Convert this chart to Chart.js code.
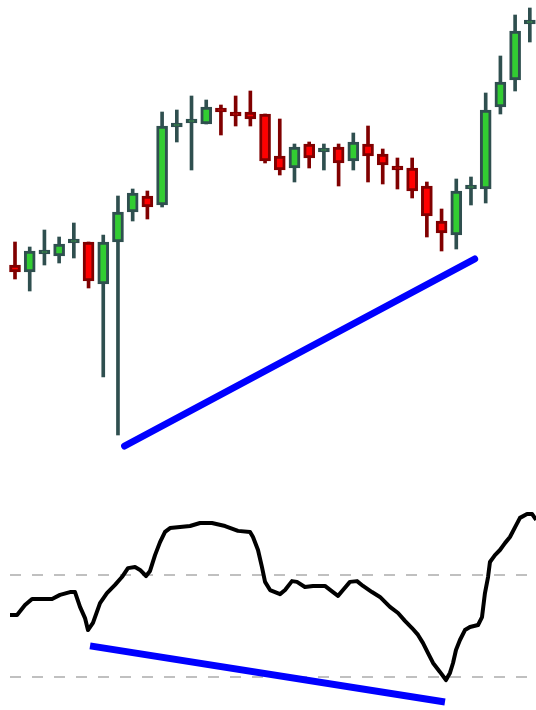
<!DOCTYPE html>
<html>
<head>
<meta charset="utf-8">
<script src="https://cdn.jsdelivr.net/npm/chart.js@4"></script>
<style>
  html, body { margin: 0; padding: 0; background: #fff; }
  #wrap { width: 536px; height: 710px; }
  canvas { display: block; }
</style>
</head>
<body>
<div id="wrap">
  <canvas id="price-chart" width="536" height="480"></canvas>
  <canvas id="osc-chart" width="536" height="230"></canvas>
</div>
<script>
// bar index, OHLC
const bars = Array.from({ length: 36 }, (_, i) => i);
const opens = [
  1.2195, 1.2188, 1.2206, 1.2204, 1.2217, 1.2218, 1.2176, 1.2218, 1.2248, 1.2264,
  1.2255, 1.2333, 1.2337, 1.2336, 1.2349, 1.2347, 1.2348, 1.2346, 1.2304, 1.2292,
  1.2316, 1.2308, 1.2313, 1.2299, 1.2316, 1.2306, 1.2291, 1.2292, 1.2274, 1.2239,
  1.2225, 1.2271, 1.2271, 1.2353, 1.2380, 1.2436,
];
const highs = [
  1.2218, 1.2213, 1.2230, 1.2223, 1.2237, 1.2218, 1.2225, 1.2264, 1.2271, 1.2269,
  1.2348, 1.2350, 1.2364, 1.2360, 1.2355, 1.2364, 1.2369, 1.2346, 1.2341, 1.2316,
  1.2318, 1.2316, 1.2316, 1.2327, 1.2334, 1.2311, 1.2302, 1.2302, 1.2278, 1.2251,
  1.2281, 1.2283, 1.2367, 1.2404, 1.2445, 1.2452,
];
const lows = [
  1.2181, 1.2169, 1.2195, 1.2197, 1.2202, 1.2172, 1.2083, 1.2025, 1.2239, 1.2241,
  1.2253, 1.2318, 1.2290, 1.2336, 1.2325, 1.2334, 1.2334, 1.2297, 1.2285, 1.2278,
  1.2292, 1.2290, 1.2274, 1.2290, 1.2278, 1.2276, 1.2271, 1.2262, 1.2223, 1.2209,
  1.2211, 1.2255, 1.2257, 1.2346, 1.2369, 1.2418,
];
const closes = [
  1.2188, 1.2209, 1.2207, 1.2216, 1.2218, 1.2179, 1.2218, 1.2248, 1.2267, 1.2253,
  1.2334, 1.2334, 1.2338, 1.2353, 1.2348, 1.2344, 1.2341, 1.2299, 1.2290, 1.2313,
  1.2302, 1.2309, 1.2297, 1.2318, 1.2304, 1.2295, 1.2290, 1.2269, 1.2244, 1.2227,
  1.2269, 1.2272, 1.2350, 1.2378, 1.2429, 1.2437,
];

// support line under the price lows
const trendX = [7.45, 31.25];
const trendPrice = [1.2014, 1.2201];

// oscillator (0-100)
const oscX = [
  -0.34, 0.14, 0.68, 1.16, 2.52, 3.06, 3.74, 4.08, 4.42, 4.76,
  4.96, 5.30, 5.78, 6.25, 6.80, 7.27, 7.68, 8.16, 8.50, 8.91,
  9.18, 9.52, 9.86, 10.20, 10.54, 11.90, 12.58, 13.39, 14.28, 15.16,
  15.98, 16.18, 16.52, 16.79, 17.00, 17.34, 18.02, 18.36, 18.83, 19.17,
  19.71, 20.26, 21.07, 21.62, 21.96, 22.30, 22.77, 23.25, 23.66, 24.27,
  24.81, 25.49, 26.04, 26.51, 26.99, 27.40, 27.74, 28.08, 28.42, 28.89,
  29.30, 29.57, 29.78, 29.98, 30.25, 30.59, 30.93, 31.48, 31.75, 31.95,
  32.16, 32.29, 32.63, 32.97, 33.31, 33.65, 34.00, 34.33, 34.81, 35.16,
  35.43,
];
const oscValues = [
  54.3, 54.3, 58.2, 60.6, 60.6, 62.2, 63.3, 63.3, 57.5, 53.1,
  48.4, 51.2, 59.0, 62.9, 66.1, 69.2, 72.7, 73.1, 72.0, 69.6,
  71.6, 77.8, 82.9, 86.9, 88.4, 89.2, 90.4, 90.4, 89.2, 87.3,
  86.9, 84.9, 79.8, 73.1, 67.3, 64.1, 62.5, 64.1, 67.6, 67.3,
  65.3, 65.7, 65.7, 63.3, 61.8, 64.1, 67.3, 67.6, 65.7, 63.3,
  61.4, 57.5, 55.1, 52.0, 49.2, 46.5, 43.3, 39.4, 35.5, 32.0,
  28.8, 31.6, 35.5, 40.6, 44.5, 48.4, 49.6, 50.4, 53.5, 62.9,
  69.2, 75.1, 77.8, 79.8, 82.5, 84.9, 88.8, 92.4, 93.9, 93.9,
  91.6,
];
const oscLevels = [70, 30];
const levelX = [-0.34, 35.1];

// falling line under the oscillator lows
const oscTrendX = [5.1, 29.23];
const oscTrendValues = [42.2, 20.2];

const bullBody = '#32CD32';
const bullEdge = '#2F4F4F';
const bearBody = '#FF0000';
const bearEdge = '#800000';

const isBull = (i) => closes[i] >= opens[i];

const xScale = {
  type: 'linear',
  min: -1.02,
  max: 35.42,
  offset: false,
  display: false,
};

const baseOptions = {
  responsive: false,
  animation: false,
  layout: { padding: 0 },
  plugins: { legend: { display: false }, tooltip: { enabled: false } },
};

new Chart(document.querySelector('#price-chart'), {
  type: 'bar',
  data: {
    datasets: [
      {
        type: 'line',
        data: trendX.map((x, i) => ({ x, y: trendPrice[i] })),
        borderColor: '#0000FF',
        borderWidth: 7,
        borderCapStyle: 'round',
        pointRadius: 0,
        order: 0,
      },
      {
        data: bars.map((x, i) => ({ x, y: [opens[i], closes[i]] })),
        backgroundColor: bars.map((i) => (isBull(i) ? bullBody : bearBody)),
        borderColor: bars.map((i) => (isBull(i) ? bullEdge : bearEdge)),
        borderWidth: 3,
        borderSkipped: false,
        barThickness: 11,
        minBarLength: 4,
        grouped: false,
        order: 1,
      },
      {
        data: bars.map((x, i) => ({ x, y: [lows[i], highs[i]] })),
        backgroundColor: bars.map((i) => (isBull(i) ? bullEdge : bearEdge)),
        borderWidth: 0,
        barThickness: 3,
        grouped: false,
        order: 2,
      },
    ],
  },
  options: {
    ...baseOptions,
    scales: {
      x: xScale,
      y: { min: 1.198, max: 1.246, display: false },
    },
  },
});

new Chart(document.querySelector('#osc-chart'), {
  type: 'line',
  data: {
    datasets: [
      {
        data: oscTrendX.map((x, i) => ({ x, y: oscTrendValues[i] })),
        borderColor: '#0000FF',
        borderWidth: 7,
        pointRadius: 0,
        order: 0,
      },
      {
        data: oscX.map((x, i) => ({ x, y: oscValues[i] })),
        borderColor: '#000000',
        borderWidth: 4,
        borderJoinStyle: 'round',
        pointRadius: 0,
        tension: 0,
        order: 1,
      },
      ...oscLevels.map((level) => ({
        data: levelX.map((x) => ({ x, y: level })),
        borderColor: '#C0C0C0',
        borderWidth: 2,
        borderDash: [11, 11],
        pointRadius: 0,
        order: 2,
      })),
    ],
  },
  options: {
    ...baseOptions,
    scales: {
      x: xScale,
      y: { min: 17.06, max: 107.25, display: false },
    },
  },
});
</script>
</body>
</html>
